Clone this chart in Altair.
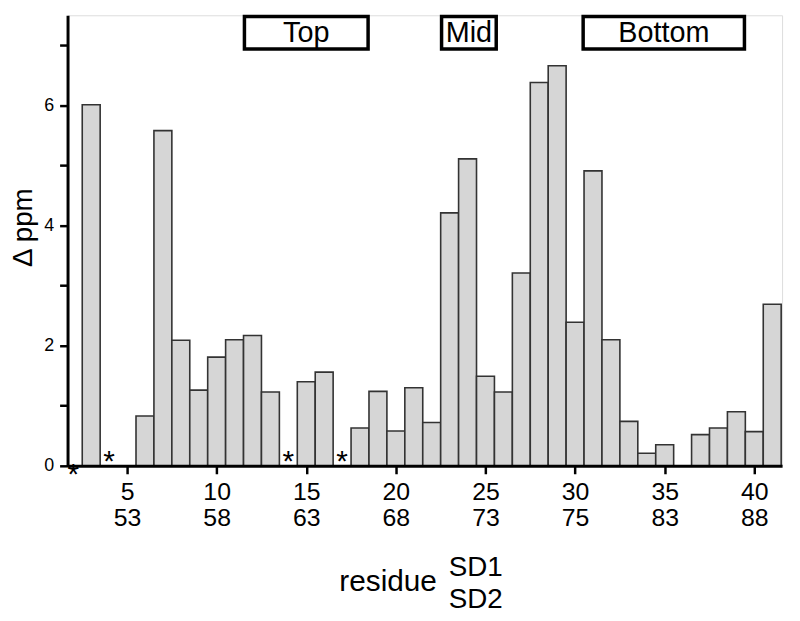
import altair as alt
import pandas as pd

FONT = "Liberation Sans"

# Residue numbers (SD1 numbering) with measured shifts
residues = [3, 6, 7, 8, 9, 10, 11, 12, 13, 15, 16, 18, 19, 20, 21, 22, 23, 24, 25,
            26, 27, 28, 29, 30, 31, 32, 33, 34, 35, 37, 38, 39, 40, 41]
delta_ppm = [6.01, 0.83, 5.58, 2.09, 1.26, 1.81, 2.10, 2.17, 1.23, 1.40, 1.56, 0.63,
             1.24, 0.58, 1.30, 0.72, 4.21, 5.11, 1.49, 1.23, 3.21, 6.38, 6.66, 2.39,
             4.91, 2.10, 0.74, 0.21, 0.35, 0.52, 0.63, 0.90, 0.57, 2.69]

# residues marked with an asterisk
star_residues = [2, 4, 14, 17]
star_y = [-0.3, -0.08, -0.08, -0.08]

# tick labels: SD1 numbering and SD2 numbering
tick_sd1 = [5, 10, 15, 20, 25, 30, 35, 40]
tick_sd2 = ["53", "58", "63", "68", "73", "75", "83", "88"]

# region boxes
region_labels = ["Top", "Mid", "Bottom"]
region_start = [11.55, 22.55, 30.45]
region_end = [18.45, 25.6, 39.45]
region_low = [6.94, 6.94, 6.94]
region_high = [7.48, 7.48, 7.48]

bars_df = pd.DataFrame({"residue": residues, "dppm": delta_ppm})
stars_df = pd.DataFrame({"residue": star_residues, "y": star_y, "t": ["*"] * len(star_residues)})
regions_df = pd.DataFrame({
    "label": region_labels, "x0": region_start, "x1": region_end,
    "y0": region_low, "y1": region_high,
})

x_scale = alt.Scale(domain=[1.68, 41.55], nice=False, zero=False)
y_scale = alt.Scale(domain=[0, 7.5], nice=False, zero=True)

label_expr = " : ".join(
    f"datum.value == {a} ? ['{a}', '{b}']" for a, b in zip(tick_sd1, tick_sd2)
) + " : datum.label"

x_axis = alt.Axis(
    values=tick_sd1, labelExpr=label_expr, title=None, grid=False,
    domainColor="black", domainWidth=3, tickColor="black", tickWidth=2.5,
    tickSize=8, labelFontSize=25, labelLineHeight=26, labelFont=FONT,
    labelColor="black", labelPadding=6, zindex=1, labelFlush=False,
)
y_axis = alt.Axis(
    values=list(range(8)), format="d",
    labelExpr="datum.value % 2 == 0 ? datum.label : ''",
    title=None, grid=False, domainColor="black", domainWidth=3,
    tickColor="black", tickWidth=2.5, tickSize=8, labelFontSize=18,
    labelFont=FONT, labelColor="black", labelPadding=6, zindex=1,
)

bars = alt.Chart(bars_df).transform_calculate(
    x0="datum.residue - 0.5", x1="datum.residue + 0.5"
).mark_bar(fill="#d6d6d6", stroke="#333333", strokeWidth=1.6).encode(
    x=alt.X("x0:Q", scale=x_scale, axis=x_axis),
    x2="x1:Q",
    y=alt.Y("dppm:Q", scale=y_scale, axis=y_axis),
    y2=alt.datum(0),
)

stars = alt.Chart(stars_df).mark_text(
    font=FONT, fontSize=30, color="black", baseline="alphabetic", align="center"
).encode(
    x=alt.X("residue:Q", scale=x_scale),
    y=alt.Y("y:Q", scale=y_scale),
    text="t:N",
)

boxes = alt.Chart(regions_df).mark_rect(
    fill="white", stroke="black", strokeWidth=3.5
).encode(
    x=alt.X("x0:Q", scale=x_scale), x2="x1:Q",
    y=alt.Y("y0:Q", scale=y_scale), y2="y1:Q",
)

box_text = alt.Chart(regions_df).transform_calculate(
    xm="(datum.x0 + datum.x1) / 2", ym="(datum.y0 + datum.y1) / 2"
).mark_text(
    font=FONT, fontSize=29, color="black", baseline="middle", align="center"
).encode(
    x=alt.X("xm:Q", scale=x_scale),
    y=alt.Y("ym:Q", scale=y_scale),
    text="label:N",
)

y_title = alt.Chart(pd.DataFrame({"t": ["Δ ppm"]})).mark_text(
    font=FONT, fontSize=28, color="black", angle=270, align="center",
    baseline="alphabetic",
).encode(x=alt.value(-36), y=alt.value(214), text="t:N")

x_title = alt.Chart(pd.DataFrame({"t": ["residue"]})).mark_text(
    font=FONT, fontSize=30, color="black", align="center", baseline="alphabetic",
).encode(x=alt.value(323), y=alt.value(580), text="t:N")

sd1 = alt.Chart(pd.DataFrame({"t": ["SD1"]})).mark_text(
    font=FONT, fontSize=28, color="black", align="left", baseline="alphabetic",
).encode(x=alt.value(384), y=alt.value(565), text="t:N")

sd2 = alt.Chart(pd.DataFrame({"t": ["SD2"]})).mark_text(
    font=FONT, fontSize=28, color="black", align="left", baseline="alphabetic",
).encode(x=alt.value(384), y=alt.value(597), text="t:N")

chart = alt.layer(bars, stars, boxes, box_text, y_title, x_title, sd1, sd2).properties(
    width=720, height=454,
    autosize=alt.AutoSizeParams(type="none"),
    padding={"left": 60, "top": 5, "right": 10, "bottom": 150},
).configure_view(stroke=None).configure(background="white")

chart.save("out.html", embed_options={"renderer": "svg", "actions": False})
